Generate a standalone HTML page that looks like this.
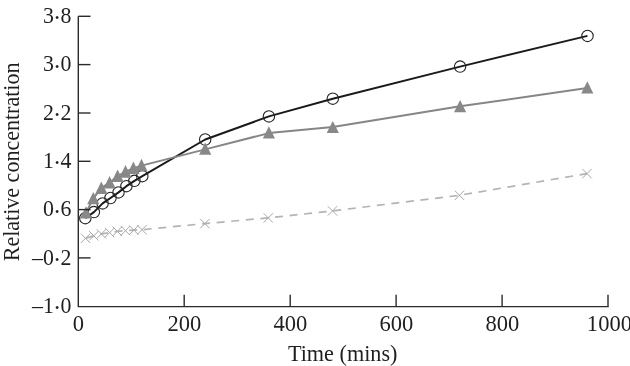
<!DOCTYPE html>
<html lang="en"><head><meta charset="utf-8"><title>Relative concentration vs time</title>
<style>
html,body{margin:0;padding:0;background:#fff;}
body{width:630px;height:366px;overflow:hidden;}
svg{display:block;}
text{font-family:"Liberation Serif","Times New Roman",Times,serif;font-size:23px;fill:#1f1f1f;}
</style></head><body>
<svg width="630" height="366" viewBox="0 0 630 366">
<rect width="630" height="366" fill="#fff"/>
<text transform="translate(71.4 22.9) scale(0.95 1)" text-anchor="end">3<tspan font-size="26" dy="3.3" dx="-0.9">·</tspan><tspan dy="-3.3" dx="-0.9">8</tspan></text>
<text transform="translate(71.4 71.2) scale(0.95 1)" text-anchor="end">3<tspan font-size="26" dy="3.3" dx="-0.9">·</tspan><tspan dy="-3.3" dx="-0.9">0</tspan></text>
<text transform="translate(71.4 119.6) scale(0.95 1)" text-anchor="end">2<tspan font-size="26" dy="3.3" dx="-0.9">·</tspan><tspan dy="-3.3" dx="-0.9">2</tspan></text>
<text transform="translate(71.4 167.9) scale(0.95 1)" text-anchor="end">1<tspan font-size="26" dy="3.3" dx="-0.9">·</tspan><tspan dy="-3.3" dx="-0.9">4</tspan></text>
<text transform="translate(71.4 216.2) scale(0.95 1)" text-anchor="end">0<tspan font-size="26" dy="3.3" dx="-0.9">·</tspan><tspan dy="-3.3" dx="-0.9">6</tspan></text>
<text transform="translate(71.4 264.6) scale(0.95 1)" text-anchor="end">–0<tspan font-size="26" dy="3.3" dx="-0.9">·</tspan><tspan dy="-3.3" dx="-0.9">2</tspan></text>
<text transform="translate(71.4 312.9) scale(0.95 1)" text-anchor="end">–1<tspan font-size="26" dy="3.3" dx="-0.9">·</tspan><tspan dy="-3.3" dx="-0.9">0</tspan></text>
<text transform="translate(78.3 330.6) scale(0.98 1)" text-anchor="middle">0</text>
<text transform="translate(184.4 330.6) scale(0.98 1)" text-anchor="middle">200</text>
<text transform="translate(290.4 330.6) scale(0.98 1)" text-anchor="middle">400</text>
<text transform="translate(396.3 330.6) scale(0.98 1)" text-anchor="middle">600</text>
<text transform="translate(502.4 330.6) scale(0.98 1)" text-anchor="middle">800</text>
<text transform="translate(609.4 330.6) scale(0.98 1)" text-anchor="middle">1000</text>
<text transform="translate(287.9 360.6) scale(0.965 1)">Time (mins)</text>
<text transform="translate(19 261.3) rotate(-90) scale(0.958 1)">Relative concentration</text>
<polyline points="85.5,238.3 93.8,235.8 101.4,233.9 109.7,232.6 117.3,231.3 125.5,230.7 133.8,230.1 142.0,229.7 204.9,223.6 268.3,217.9 332.5,210.9 459.5,195.3 587.0,173.6" fill="none" stroke="#b4b4b4" stroke-width="1.7" stroke-dasharray="8 6.65" stroke-dashoffset="-0.5"/>
<g stroke="#a8a8a8" stroke-width="1" fill="none">
<path d="M80.8 233.6L90.2 243.0M80.8 243.0L90.2 233.6"/>
<path d="M89.1 231.1L98.5 240.5M89.1 240.5L98.5 231.1"/>
<path d="M96.7 229.2L106.1 238.6M96.7 238.6L106.1 229.2"/>
<path d="M105.0 227.9L114.4 237.3M105.0 237.3L114.4 227.9"/>
<path d="M112.6 226.6L122.0 236.0M112.6 236.0L122.0 226.6"/>
<path d="M120.8 226.0L130.2 235.4M120.8 235.4L130.2 226.0"/>
<path d="M129.1 225.4L138.5 234.8M129.1 234.8L138.5 225.4"/>
<path d="M137.3 225.0L146.7 234.4M137.3 234.4L146.7 225.0"/>
<path d="M200.2 218.9L209.6 228.3M200.2 228.3L209.6 218.9"/>
<path d="M263.6 213.2L273.0 222.6M263.6 222.6L273.0 213.2"/>
<path d="M327.8 206.2L337.2 215.6M327.8 215.6L337.2 206.2"/>
<path d="M454.8 190.6L464.2 200.0M454.8 200.0L464.2 190.6"/>
<path d="M582.3 168.9L591.7 178.3M582.3 178.3L591.7 168.9"/>
</g>
<polyline points="85.3,218.2 93.9,212.1 102.6,203.4 110.5,198.0 118.5,192.4 126.4,186.2 134.4,180.8 142.3,176.2 205.2,139.5 268.9,116.4 332.8,98.7 460.1,66.6 587.5,35.9" fill="none" stroke="#1a1a1a" stroke-width="2" stroke-linejoin="round"/>
<g fill="none" stroke="#222" stroke-width="1.1">
<circle cx="85.3" cy="218.2" r="5.7"/>
<circle cx="93.9" cy="212.1" r="5.7"/>
<circle cx="102.6" cy="203.4" r="5.7"/>
<circle cx="110.5" cy="198.0" r="5.7"/>
<circle cx="118.5" cy="192.4" r="5.7"/>
<circle cx="126.4" cy="186.2" r="5.7"/>
<circle cx="134.4" cy="180.8" r="5.7"/>
<circle cx="142.3" cy="176.2" r="5.7"/>
<circle cx="205.2" cy="139.5" r="5.7"/>
<circle cx="268.9" cy="116.4" r="5.7"/>
<circle cx="332.8" cy="98.7" r="5.7"/>
<circle cx="460.1" cy="66.6" r="5.7"/>
<circle cx="587.5" cy="35.9" r="5.7"/>
</g>
<polyline points="86.0,212.7 93.3,198.4 101.3,188.2 109.6,182.7 117.6,176.2 125.5,171.9 133.4,168.2 141.5,165.6 205.2,149.4 268.9,133.1 332.8,126.9 460.1,106.3 587.3,88.1" fill="none" stroke="#868686" stroke-width="2" stroke-linejoin="round"/>
<g fill="#888">
<path d="M86.0 206.3L92.1 218.5H79.9Z"/>
<path d="M93.3 192.0L99.4 204.2H87.2Z"/>
<path d="M101.3 181.4L107.4 194.0H95.2Z"/>
<path d="M109.6 175.9L115.7 188.5H103.5Z"/>
<path d="M117.6 169.4L123.7 182.0H111.5Z"/>
<path d="M125.5 165.1L131.6 177.7H119.4Z"/>
<path d="M133.4 161.4L139.5 174.0H127.3Z"/>
<path d="M141.5 158.8L147.6 171.4H135.4Z"/>
<path d="M205.2 142.5L211.3 154.7H199.1Z"/>
<path d="M268.9 126.2L275.0 138.4H262.8Z"/>
<path d="M332.8 120.9L338.9 133.1H326.7Z"/>
<path d="M460.1 100.1L466.2 112.3H454.0Z"/>
<path d="M587.3 81.2L593.4 93.4H581.2Z"/>
</g>
<g stroke="#2a2a2a" stroke-width="1.4" fill="none">
<path d="M78.3 16.3V306.6H608.7"/>
<path d="M78.3 16.3H90.5"/>
<path d="M78.3 64.6H90.5"/>
<path d="M78.3 113.0H90.5"/>
<path d="M78.3 161.3H90.5"/>
<path d="M78.3 209.6H90.5"/>
<path d="M78.3 257.9H90.5"/>
<path d="M184.2 306.6V294.8"/>
<path d="M290.2 306.6V294.8"/>
<path d="M396.1 306.6V294.8"/>
<path d="M502.1 306.6V294.8"/>
<path d="M608 306.6V294.8"/>
</g>
</svg></body></html>
